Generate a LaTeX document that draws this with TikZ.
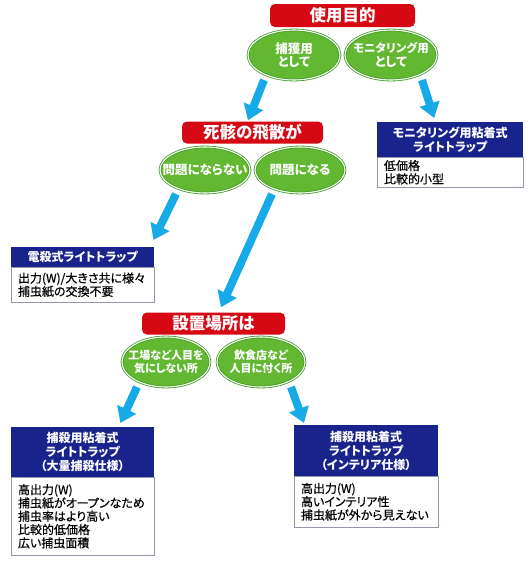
\documentclass[tikz,border=0pt]{standalone}
\usepackage{fontspec}
\setmainfont{Noto Sans CJK JP}[RawFeature=+palt]
\newfontfamily\bodyfont{Noto Sans CJK JP}[RawFeature=+palt, FakeBold=0.5]
\usetikzlibrary{shapes.geometric,arrows.meta}
\definecolor{tred}{RGB}{214,8,20}
\definecolor{tnavy}{RGB}{24,36,140}
\definecolor{tgreen}{RGB}{98,184,48}
\definecolor{tgreenD}{RGB}{66,158,38}
\definecolor{tcyan}{RGB}{22,170,232}
\definecolor{tgray}{RGB}{150,150,170}
\begin{document}
\begin{tikzpicture}[x=1pt,y=-1pt,
  titlebox/.style={fill=tred, rounded corners=5pt, text=white, font=\bfseries\fontsize{16.5}{18}\selectfont, inner sep=0pt, minimum height=22pt},
  oval/.style={ellipse, fill=tgreen, draw=tgreenD, line width=0.8pt, double=white, double distance=1.1pt, text=white, font=\bfseries\fontsize{12.5}{13.5}\selectfont, align=center, inner xsep=-16pt, inner ysep=-12pt, minimum width=90pt, minimum height=48pt},
  hdr/.style={fill=tnavy, text=white, font=\bfseries\fontsize{12}{13.8}\selectfont, align=center, inner sep=0pt, anchor=north west},
  bodybox/.style={fill=white, draw=tgray, line width=0.6pt, font=\bodyfont\fontsize{12}{13.3}\selectfont, align=left, inner xsep=7pt, inner ysep=0pt, anchor=north},
  arr/.style={draw=tcyan, line width=8pt, -{Triangle[length=15pt,width=20pt]}}
]
\useasboundingbox (0,0) rectangle (530,563);
\fill[white] (0,0) rectangle (530,563);

% titles
\node[titlebox, minimum width=145pt, minimum height=23pt] (r1) at (342.5,15.5) {使用目的};
\node[titlebox, minimum width=141pt] (r2) at (252.5,132.5) {死骸の飛散が};
\node[titlebox, minimum width=143pt] (r3) at (213.5,323.5) {設置場所は};

% ovals
\node[oval, minimum width=92pt, minimum height=50pt] (e1) at (294,55) {捕獲用\\として};
\node[oval, minimum width=92pt, minimum height=50pt] (e2) at (391,55) {\fontsize{11.5}{13.5}\selectfont モニタリング用\\として};
\node[oval, minimum height=46pt] (e3) at (205,170) {問題にならない};
\node[oval, minimum height=46pt] (e4) at (300,170) {問題になる};
\node[oval, minimum width=88pt, minimum height=50pt, font=\bfseries\fontsize{11}{13.5}\selectfont] (e5) at (166,362) {工場など人目を\\気にしない所};
\node[oval, minimum width=88pt, minimum height=50pt, font=\bfseries\fontsize{11}{13.5}\selectfont] (e6) at (261,362) {飲食店など\\人目に付く所};

% info boxes
\node[bodybox, text width=132pt, minimum height=30pt] (b1b) at (450,157) {低価格\\比較的小型};
\node[hdr, minimum width=146pt, minimum height=35pt] (b1h) at (377,122) {モニタリング用粘着式\\ライトトラップ};

\node[bodybox, text width=129pt, minimum height=35pt] (b2b) at (82.5,267) {出力(W)/大きさ共に様々\\捕虫紙の交換不要};
\node[hdr, minimum width=143pt, minimum height=20pt] (b2h) at (11,247) {電殺式ライトトラップ};

\node[bodybox, text width=129pt, minimum height=78pt] (b3b) at (82.5,477) {高出力(W)\\捕虫紙がオープンなため\\捕虫率はより高い\\比較的低価格\\広い捕虫面積};
\node[hdr, minimum width=143pt, minimum height=50pt] (b3h) at (11,427) {捕殺用粘着式\\ライトトラップ\\（大量捕殺仕様）};

\node[bodybox, text width=130pt, minimum height=51pt] (b4b) at (366,476) {高出力(W)\\高いインテリア性\\捕虫紙が外から見えない};
\node[hdr, minimum width=144pt, minimum height=51pt] (b4h) at (294,425) {捕殺用粘着式\\ライトトラップ\\（インテリア仕様）};

% arrows
\draw[arr] ([shift={(-30,25)}]e1.center) -- ([shift={(-4.5,-1)}]r2.north);
\draw[arr] ([shift={(31,25)}]e2.center) -- ([shift={(-16,-4)}]b1h.north);
\draw[arr] ([shift={(-29,24)}]e3.center) -- ([shift={(-1,-7)}]b2h.north east);
\draw[arr] ([shift={(-28,24)}]e4.center) -- ([shift={(7.5,-5)}]r3.north);
\draw[arr] ([shift={(-29,25)}]e5.center) -- ([shift={(-34,-4)}]b3h.north east);
\draw[arr] ([shift={(30,25)}]e6.center) -- ([shift={(10,-2)}]b4h.north west);
\end{tikzpicture}
\end{document}
